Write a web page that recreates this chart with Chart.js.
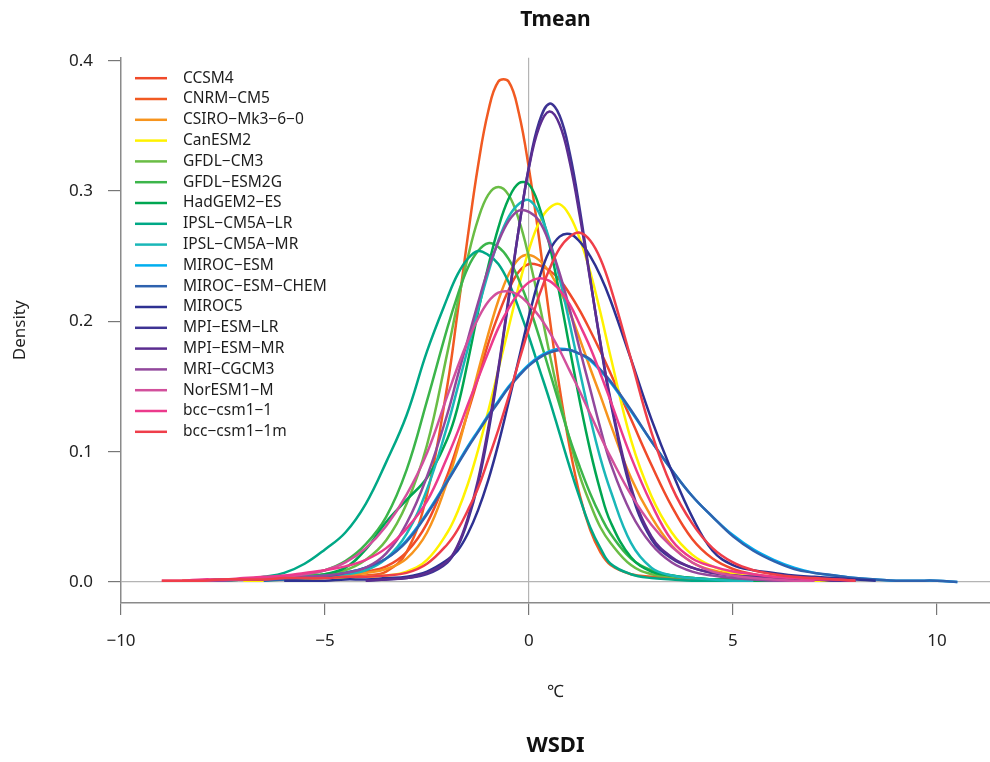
<!DOCTYPE html>
<html>
<head>
<meta charset="utf-8">
<title>Tmean</title>
<script src="https://cdn.jsdelivr.net/npm/chart.js@4.4.1/dist/chart.umd.min.js"></script>
<style>
    html, body { margin: 0; padding: 0; background: #ffffff; }
    #wrap { width: 990px; height: 762px; position: relative; }
</style>
</head>
<body>
<div id="wrap"><canvas id="densityChart"></canvas></div>
<script>
// x positions shared by every curve (degrees C), finer around the peaks
const xGrid = [-9, -8.5, -8, -7.5, -7, -6.5, -6, -5.5, -5, -4.5, -4, -3.5, -3, -2.5, -2,
    -1.75, -1.5, -1.25, -1, -0.75, -0.5, -0.25, 0, 0.25, 0.5, 0.75, 1, 1.25, 1.5, 1.75,
    2, 2.5, 3, 3.5, 4, 4.5, 5, 5.5, 6, 6.5, 7, 7.5, 8, 8.5, 9, 9.5, 10, 10.5];

const xTicks = [-10, -5, 0, 5, 10];
const yTicks = [0, 0.1, 0.2, 0.3, 0.4];

const models = ['CCSM4', 'CNRM\u2212CM5', 'CSIRO\u2212Mk3\u22126\u22120', 'CanESM2', 'GFDL\u2212CM3', 'GFDL\u2212ESM2G',
    'HadGEM2\u2212ES', 'IPSL\u2212CM5A\u2212LR', 'IPSL\u2212CM5A\u2212MR', 'MIROC\u2212ESM', 'MIROC\u2212ESM\u2212CHEM',
    'MIROC5', 'MPI\u2212ESM\u2212LR', 'MPI\u2212ESM\u2212MR', 'MRI\u2212CGCM3', 'NorESM1\u2212M', 'bcc\u2212csm1\u22121', 'bcc\u2212csm1\u22121m'];

// density values, one per xGrid entry (null = curve not drawn there)
const ccsm4 = [null, 0.001, 0.001, 0.002, 0.002, 0.003, 0.003, 0.004, 0.005, 0.006, 0.008, 0.012, 0.023, 0.045, 0.082,
    0.105, 0.130, 0.156, 0.183, 0.205, 0.224, 0.238, 0.244, 0.243, 0.239, 0.232, 0.221, 0.208, 0.193, 0.177,
    0.160, 0.125, 0.090, 0.058, 0.033, 0.018, 0.010, 0.006, 0.004, 0.003, 0.002, 0.001, 0.001, null, null, null, null, null];
const cnrmCm5 = [null, null, 0.001, 0.001, 0.002, 0.002, 0.003, 0.003, 0.004, 0.004, 0.005, 0.008, 0.023, 0.067, 0.151,
    0.207, 0.265, 0.319, 0.361, 0.384, 0.384, 0.360, 0.317, 0.263, 0.204, 0.149, 0.103, 0.066, 0.040, 0.023,
    0.013, 0.006, 0.004, 0.003, 0.002, 0.002, 0.001, 0.001, 0.001, null, null, null, null, null, null, null, null, null];
const csiroMk3 = [null, 0.001, 0.001, 0.002, 0.002, 0.003, 0.003, 0.004, 0.004, 0.005, 0.007, 0.010, 0.018, 0.038, 0.077,
    0.102, 0.131, 0.161, 0.190, 0.216, 0.236, 0.248, 0.251, 0.247, 0.238, 0.224, 0.207, 0.186, 0.164, 0.143,
    0.121, 0.080, 0.050, 0.028, 0.015, 0.009, 0.006, 0.004, 0.003, 0.002, 0.001, 0.001, null, null, null, null, null, null];
const canEsm2 = [null, null, null, null, 0.001, 0.001, 0.002, 0.002, 0.003, 0.003, 0.004, 0.005, 0.008, 0.017, 0.038,
    0.054, 0.075, 0.101, 0.131, 0.163, 0.195, 0.227, 0.255, 0.276, 0.287, 0.290, 0.281, 0.263, 0.238, 0.207,
    0.173, 0.109, 0.066, 0.038, 0.021, 0.012, 0.007, 0.004, 0.003, 0.002, 0.001, 0.001, 0.001, null, null, null, null, null];
const gfdlCm3 = [null, null, 0.001, 0.002, 0.002, 0.003, 0.004, 0.005, 0.006, 0.009, 0.017, 0.032, 0.060, 0.105, 0.176,
    0.214, 0.249, 0.278, 0.297, 0.303, 0.297, 0.278, 0.249, 0.214, 0.176, 0.140, 0.109, 0.081, 0.060, 0.042,
    0.030, 0.013, 0.006, 0.004, 0.003, 0.002, 0.002, 0.001, 0.001, 0.001, null, null, null, null, null, null, null, null];
const gfdlEsm2g = [null, null, 0.001, 0.002, 0.002, 0.003, 0.004, 0.006, 0.009, 0.016, 0.029, 0.050, 0.086, 0.139, 0.195,
    0.220, 0.241, 0.254, 0.260, 0.257, 0.248, 0.232, 0.212, 0.188, 0.162, 0.136, 0.110, 0.088, 0.068, 0.051,
    0.037, 0.018, 0.009, 0.005, 0.003, 0.002, 0.002, 0.001, 0.001, null, null, null, null, null, null, null, null, null];
const hadGem2Es = [null, null, 0.001, 0.001, 0.002, 0.002, 0.003, 0.004, 0.006, 0.011, 0.025, 0.046, 0.063, 0.080, 0.110,
    0.134, 0.169, 0.207, 0.242, 0.272, 0.294, 0.306, 0.305, 0.288, 0.259, 0.221, 0.179, 0.138, 0.101, 0.070,
    0.046, 0.019, 0.008, 0.005, 0.003, 0.002, 0.002, 0.001, 0.001, null, null, null, null, null, null, null, null, null];
const ipslLr = [null, null, 0.001, 0.002, 0.002, 0.004, 0.007, 0.014, 0.025, 0.038, 0.060, 0.092, 0.128, 0.177, 0.218,
    0.236, 0.248, 0.254, 0.251, 0.244, 0.230, 0.210, 0.188, 0.164, 0.140, 0.114, 0.088, 0.064, 0.042, 0.026,
    0.014, 0.006, 0.003, 0.002, 0.001, 0.001, 0.001, null, null, null, null, null, null, null, null, null, null, null];
const ipslMr = [null, null, 0.001, 0.001, 0.002, 0.002, 0.003, 0.004, 0.005, 0.006, 0.009, 0.018, 0.037, 0.071, 0.120,
    0.149, 0.179, 0.209, 0.237, 0.262, 0.280, 0.290, 0.293, 0.283, 0.263, 0.233, 0.198, 0.161, 0.126, 0.095,
    0.070, 0.030, 0.011, 0.005, 0.003, 0.002, 0.001, 0.001, null, null, null, null, null, null, null, null, null, null];
const mirocEsm = [null, null, null, null, null, 0.001, 0.002, 0.003, 0.004, 0.007, 0.011, 0.018, 0.032, 0.053, 0.078,
    0.091, 0.104, 0.116, 0.128, 0.139, 0.150, 0.159, 0.167, 0.173, 0.177, 0.179, 0.178, 0.175, 0.170, 0.162,
    0.153, 0.131, 0.108, 0.086, 0.066, 0.050, 0.036, 0.025, 0.017, 0.011, 0.007, 0.005, 0.003, 0.002, 0.001, 0.001, 0.001, 0.000];
const mirocEsmChem = [null, null, null, null, null, 0.001, 0.002, 0.003, 0.004, 0.007, 0.011, 0.018, 0.031, 0.052, 0.077,
    0.090, 0.103, 0.115, 0.127, 0.138, 0.149, 0.158, 0.166, 0.172, 0.176, 0.178, 0.178, 0.175, 0.171, 0.163,
    0.154, 0.132, 0.108, 0.086, 0.066, 0.050, 0.035, 0.024, 0.016, 0.010, 0.007, 0.005, 0.003, 0.002, 0.001, 0.001, 0.001, 0.000];
const miroc5 = [null, null, null, null, null, null, 0.001, 0.001, 0.001, 0.002, 0.002, 0.003, 0.004, 0.008, 0.017,
    0.024, 0.037, 0.055, 0.078, 0.106, 0.138, 0.171, 0.204, 0.233, 0.254, 0.265, 0.267, 0.261, 0.250, 0.235,
    0.216, 0.171, 0.125, 0.085, 0.050, 0.024, 0.013, 0.009, 0.007, 0.005, 0.004, 0.003, 0.002, 0.001, null, null, null, null];
const mpiEsmLr = [null, null, null, null, null, null, null, null, null, null, 0.001, 0.002, 0.003, 0.006, 0.015,
    0.027, 0.047, 0.075, 0.114, 0.162, 0.216, 0.271, 0.319, 0.353, 0.367, 0.358, 0.329, 0.285, 0.233, 0.183,
    0.138, 0.070, 0.033, 0.018, 0.011, 0.007, 0.005, 0.004, 0.003, 0.002, 0.002, 0.001, 0.001, null, null, null, null, null];
const mpiEsmMr = [null, null, null, null, null, null, null, null, null, null, 0.001, 0.002, 0.003, 0.007, 0.016,
    0.028, 0.049, 0.078, 0.118, 0.164, 0.218, 0.271, 0.318, 0.349, 0.361, 0.351, 0.322, 0.280, 0.232, 0.184,
    0.140, 0.073, 0.035, 0.019, 0.011, 0.007, 0.005, 0.004, 0.003, 0.002, 0.002, 0.001, 0.001, null, null, null, null, null];
const mriCgcm3 = [null, null, 0.001, 0.001, 0.002, 0.002, 0.003, 0.004, 0.005, 0.007, 0.011, 0.022, 0.045, 0.081, 0.129,
    0.158, 0.186, 0.214, 0.240, 0.261, 0.277, 0.285, 0.284, 0.277, 0.260, 0.237, 0.209, 0.178, 0.148, 0.118,
    0.091, 0.053, 0.029, 0.015, 0.008, 0.005, 0.003, 0.002, 0.001, 0.001, null, null, null, null, null, null, null, null];
const norEsm1M = [null, null, 0.001, 0.002, 0.002, 0.003, 0.004, 0.006, 0.009, 0.015, 0.026, 0.043, 0.067, 0.099, 0.143,
    0.165, 0.185, 0.202, 0.215, 0.222, 0.223, 0.220, 0.213, 0.204, 0.192, 0.178, 0.162, 0.146, 0.129, 0.112,
    0.096, 0.067, 0.044, 0.027, 0.015, 0.008, 0.005, 0.003, 0.002, 0.001, 0.001, null, null, null, null, null, null, null];
const bccCsm11 = [0.001, 0.001, 0.002, 0.002, 0.003, 0.004, 0.005, 0.007, 0.009, 0.012, 0.017, 0.026, 0.041, 0.062, 0.096,
    0.115, 0.136, 0.156, 0.176, 0.195, 0.210, 0.222, 0.230, 0.233, 0.231, 0.224, 0.213, 0.197, 0.180, 0.160,
    0.139, 0.096, 0.060, 0.032, 0.018, 0.012, 0.008, 0.006, 0.004, 0.003, 0.002, 0.002, 0.001, null, null, null, null, null];
const bccCsm11m = [0.001, 0.001, 0.001, 0.002, 0.002, 0.002, 0.003, 0.003, 0.003, 0.004, 0.004, 0.005, 0.007, 0.014, 0.029,
    0.040, 0.055, 0.072, 0.094, 0.117, 0.142, 0.169, 0.195, 0.220, 0.240, 0.256, 0.265, 0.268, 0.262, 0.248,
    0.226, 0.171, 0.115, 0.073, 0.045, 0.026, 0.015, 0.009, 0.006, 0.004, 0.003, 0.002, 0.001, null, null, null, null, null];

const series = [ccsm4, cnrmCm5, csiroMk3, canEsm2, gfdlCm3, gfdlEsm2g, hadGem2Es, ipslLr, ipslMr, mirocEsm,
    mirocEsmChem, miroc5, mpiEsmLr, mpiEsmMr, mriCgcm3, norEsm1M, bccCsm11, bccCsm11m];

const colors = ['#f04a2a', '#f15a22', '#f7941d', '#fff200', '#6abd45', '#3cb54a', '#00a651', '#00a886', '#1ab7b8',
    '#00aeef', '#2e62ae', '#2e3192', '#3d3393', '#5b2d90', '#92489c', '#d2509c', '#ec3a8c', '#ef3e4a'];

Chart.defaults.font.family = '"Noto Sans", "DejaVu Sans", sans-serif';
Chart.defaults.color = '#222222';

// legend drawn inside the plot, top left, like the original
const insideLegend = {
    id: 'insideLegend',
    afterDatasetsDraw(chart) {
        const ctx = chart.ctx;
        const area = chart.chartArea;
        ctx.save();
        ctx.font = '15.5px "Noto Sans", sans-serif';
        ctx.textBaseline = 'middle';
        ctx.textAlign = 'left';
        chart.data.datasets.forEach((ds, i) => {
            const y = area.top + 20.5 + i * 20.8;
            ctx.strokeStyle = ds.borderColor;
            ctx.lineWidth = 2.5;
            ctx.beginPath();
            ctx.moveTo(area.left + 14, y);
            ctx.lineTo(area.left + 46, y);
            ctx.stroke();
            ctx.fillStyle = '#1e1e1e';
            ctx.fillText(ds.label, area.left + 62, y);
        });
        ctx.restore();
    }
};

const zeroLine = (c) => (c.tick && c.tick.value === 0) ? '#b4b4b4' : 'rgba(0,0,0,0)';

function minusLabel(v) {
    return v < 0 ? '\u2212' + Math.abs(v) : String(v);
}

const datasets = series.map((vals, i) => ({
    label: models[i],
    data: xGrid.map((x, j) => ({ x: x, y: vals[j] })),
    borderColor: colors[i],
    backgroundColor: colors[i],
    borderWidth: 2.5,
    pointRadius: 0,
    tension: 0.4,
    fill: false,
    order: series.length - i // later models drawn on top
}));

const ctx = document.getElementById('densityChart').getContext('2d');
new Chart(ctx, {
    type: 'line',
    data: { datasets: datasets },
    options: {
        responsive: true,
        maintainAspectRatio: false,
        animation: false,
        layout: { padding: 0 },
        plugins: {
            legend: { display: false },
            tooltip: { enabled: false },
            title: {
                display: true,
                text: 'Tmean',
                fullSize: false,
                color: '#111111',
                font: { size: 21, weight: 'bold' },
                padding: { top: 7.4, bottom: 25.1 }
            },
            subtitle: {
                display: true,
                text: 'WSDI',
                position: 'bottom',
                fullSize: false,
                color: '#111111',
                font: { size: 22, weight: 'bold' },
                padding: { top: 0, bottom: 3 }
            }
        },
        scales: {
            x: {
                type: 'linear',
                min: -10,
                max: 11.3,
                afterBuildTicks: (s) => { s.ticks = xTicks.map(v => ({ value: v })); },
                afterFit: (s) => { s.height = 129.6; },
                ticks: {
                    callback: minusLabel,
                    font: { size: 17 },
                    padding: 16,
                    maxRotation: 0,
                    autoSkip: false
                },
                grid: {
                    color: zeroLine,
                    lineWidth: 1.2,
                    tickColor: '#777777',
                    tickLength: 12,
                    tickWidth: 1.2
                },
                border: { color: '#8a8a8a', width: 1.5 },
                title: {
                    display: true,
                    text: '\u2103',
                    font: { size: 17 },
                    padding: { top: 0, bottom: 30 }
                }
            },
            y: {
                type: 'linear',
                min: -0.0161,
                max: 0.4023,
                afterBuildTicks: (s) => { s.ticks = yTicks.map(v => ({ value: v })); },
                afterFit: (s) => { s.width = 121; },
                ticks: {
                    callback: (v) => v.toFixed(1),
                    font: { size: 17 },
                    padding: 15
                },
                grid: {
                    color: zeroLine,
                    lineWidth: 1.2,
                    tickColor: '#777777',
                    tickLength: 13,
                    tickWidth: 1.2
                },
                border: { color: '#8a8a8a', width: 1.5 },
                title: {
                    display: true,
                    text: 'Density',
                    font: { size: 17 },
                    padding: { top: 10, bottom: 0 }
                }
            }
        }
    },
    plugins: [insideLegend]
});
</script>
</body>
</html>
